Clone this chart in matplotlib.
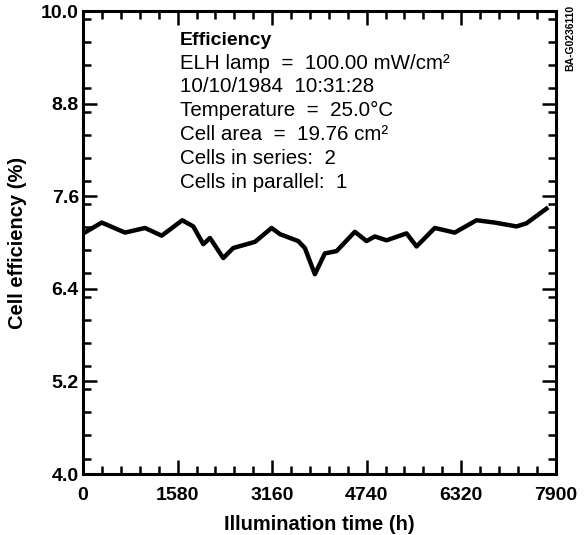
import numpy as np
import matplotlib
matplotlib.use("Agg")
import matplotlib.pyplot as plt
from matplotlib.ticker import MultipleLocator

plt.rcParams['font.family'] = ['Liberation Sans', 'DejaVu Sans']

# efficiency vs illumination time
hours = [5, 312, 701, 1035, 1314, 1658, 1842, 2009, 2121, 2343, 2510, 2873,
         3151, 3290, 3596, 3707, 3874, 4041, 4237, 4542, 4738, 4876, 5072,
         5406, 5573, 5878, 6212, 6575, 6881, 7243, 7410, 7744]
efficiency = [7.12, 7.26, 7.13, 7.19, 7.09, 7.29, 7.21, 6.98, 7.06, 6.80, 6.93, 7.01,
              7.19, 7.11, 7.02, 6.93, 6.59, 6.86, 6.89, 7.14, 7.02, 7.08, 7.03,
              7.12, 6.95, 7.19, 7.13, 7.29, 7.26, 7.21, 7.25, 7.44]

x_ticks = [0, 1580, 3160, 4740, 6320, 7900]
y_ticks = [4.0, 5.2, 6.4, 7.6, 8.8, 10.0]

info_lines = [
    "ELH lamp  =  100.00 mW/cm²",
    "10/10/1984  10:31:28",
    "Temperature  =  25.0°C",
    "Cell area  =  19.76 cm²",
    "Cells in series:  2",
    "Cells in parallel:  1",
]

fig = plt.figure(figsize=(5.85, 5.35), dpi=100)
ax = fig.add_axes([0.142, 0.114, 0.808, 0.865])

ax.plot(hours, efficiency, color="black", lw=3.2, solid_joinstyle="round")

ax.set_xlim(0, 7900)
ax.set_ylim(4.0, 10.0)
ax.set_xticks(x_ticks)
ax.set_yticks(y_ticks)
ax.set_yticklabels(["%.1f" % v for v in y_ticks])
ax.xaxis.set_minor_locator(MultipleLocator(316))
ax.yaxis.set_minor_locator(MultipleLocator(0.3))
ax.tick_params(which="both", direction="in", top=True, right=True, width=1.8, color="black")
ax.tick_params(which="major", length=10, labelsize=14)
ax.tick_params(axis="x", which="major", pad=9)
ax.tick_params(axis="y", which="major", pad=3)
ax.tick_params(which="minor", length=6)
for lab in ax.get_xticklabels() + ax.get_yticklabels():
    lab.set_fontweight("bold")
for s in ax.spines.values():
    s.set_linewidth(2.2)

ax.set_xlabel("Illumination time (h)", fontsize=14.5, fontweight="bold", labelpad=8)
ax.set_ylabel("Cell efficiency (%)", fontsize=14.5, fontweight="bold", labelpad=10)

# annotation block
fig.text(0.308, 0.924, "Efficiency", fontsize=14, fontweight="bold", va="center")
for i, line in enumerate(info_lines):
    fig.text(0.308, 0.882 - i * 0.0445, line, fontsize=14.8, va="center")

fig.text(0.975, 0.99, "BA-G0236110", fontsize=7.5, fontweight="bold",
         rotation=90, va="top", ha="center")

fig.savefig("out.png", dpi=100)
